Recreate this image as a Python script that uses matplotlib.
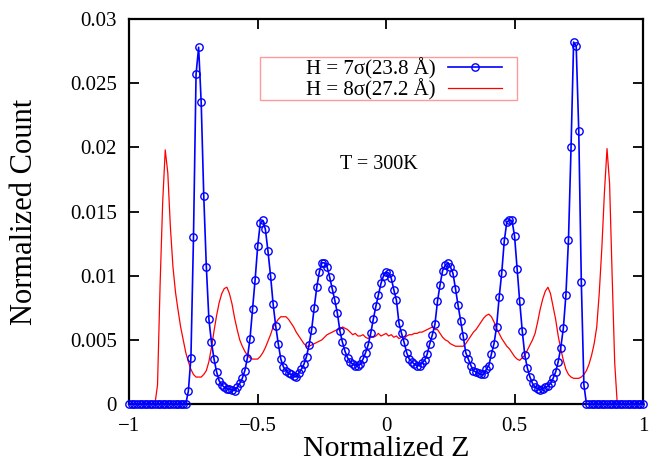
import numpy as np
import matplotlib
matplotlib.use("Agg")
import matplotlib.pyplot as plt
from matplotlib.patches import Rectangle

plt.rcParams['font.family'] = ['Liberation Serif', 'DejaVu Serif']

# ---- data (bins of 0.01 from -1 to 1) ----
blue_label = "H = 7σ(23.8 Å)"
red_label = "H = 8σ(27.2 Å)"

# H = 7 sigma, -1.00 .. -0.78 : empty
blue_left_zero = [0.0] * 23
# -0.77 .. 0.00
blue_left = [
    0.0010, 0.0036, 0.0130, 0.0257, 0.0278, 0.0235, 0.0162, 0.0107, 0.0066, 0.0048,
    0.0035, 0.0025, 0.0018, 0.0015, 0.0013, 0.0012, 0.00115, 0.0011, 0.00105, 0.0013,
    0.0016, 0.0020, 0.0026, 0.0036, 0.0051, 0.0074, 0.0097, 0.0123, 0.0141, 0.0143,
    0.0136, 0.0119, 0.0100, 0.0078, 0.0061, 0.0047, 0.0035, 0.0029, 0.0026, 0.0024,
    0.0023, 0.0022, 0.0021, 0.0024, 0.0027, 0.0031, 0.0037, 0.0046, 0.0058, 0.0075,
    0.0091, 0.0103, 0.0110, 0.0110, 0.0107, 0.0099, 0.0090, 0.0081, 0.0071, 0.0057,
    0.0048, 0.0041, 0.0036, 0.0033, 0.0031, 0.0030, 0.0030, 0.0031, 0.0035, 0.0040,
    0.0046, 0.0055, 0.0066, 0.0076, 0.0085, 0.0094, 0.0100, 0.0103,
]
# 0.01 .. 0.77
blue_right = [
    0.0102, 0.0098, 0.0089, 0.0081, 0.0063, 0.0055, 0.0048, 0.0040, 0.0035, 0.0033,
    0.0031, 0.0030, 0.0030, 0.0032, 0.0034, 0.0039, 0.0047, 0.0054, 0.0062, 0.0080,
    0.0093, 0.0104, 0.0108, 0.0110, 0.0107, 0.0102, 0.0090, 0.0077, 0.0065, 0.0053,
    0.0040, 0.0035, 0.0030, 0.0026, 0.0025, 0.0024, 0.0023, 0.0023, 0.0027, 0.0030,
    0.0039, 0.0047, 0.0060, 0.0083, 0.0102, 0.0127, 0.0142, 0.0143, 0.0143, 0.0131,
    0.0105, 0.0080, 0.0057, 0.0038, 0.0028, 0.0021, 0.0016, 0.0013, 0.0012, 0.0011,
    0.0012, 0.0013, 0.0014, 0.0016, 0.0020, 0.0025, 0.0033, 0.0044, 0.0059, 0.0085,
    0.0128, 0.0200, 0.0282, 0.0279, 0.0213, 0.0095, 0.0015,
]
# 0.78 .. 1.00 : empty
blue_right_zero = [0.0] * 23

# H = 8 sigma, -1.00 .. -0.90 : empty
red_left_zero = [0.0] * 11
# -0.89 .. 0.00
red_left = [
    0.0015, 0.0093, 0.0157, 0.0198, 0.0180, 0.0138, 0.0107, 0.0087, 0.0073, 0.0060,
    0.0050, 0.0040, 0.0033, 0.0027, 0.0023, 0.0021, 0.0021, 0.0021, 0.0023, 0.0026,
    0.0033, 0.0044, 0.0057, 0.0069, 0.0079, 0.0086, 0.0090, 0.0091, 0.0086, 0.0078,
    0.0067, 0.0058, 0.0050, 0.0045, 0.0041, 0.0038, 0.0036, 0.0035, 0.0035, 0.0035,
    0.0037, 0.0040, 0.0044, 0.0049, 0.0054, 0.0060, 0.0063, 0.0066, 0.0068, 0.0068,
    0.0068, 0.0066, 0.0063, 0.0060, 0.0056, 0.0053, 0.0050, 0.0047, 0.0045, 0.0045,
    0.0046, 0.0047, 0.0048, 0.0049, 0.0050, 0.0052, 0.0054, 0.0055, 0.0056, 0.0057,
    0.0058, 0.0058, 0.0060, 0.0059, 0.0058, 0.0056, 0.0054, 0.0055, 0.0053, 0.0053,
    0.0054, 0.0052, 0.0051, 0.0053, 0.0052, 0.0053, 0.0055, 0.0053, 0.0054, 0.0055,
]
# 0.01 .. 0.89
red_right = [
    0.0053, 0.0054, 0.0052, 0.0053, 0.0051, 0.0052, 0.0051, 0.0053, 0.0054, 0.0054,
    0.0055, 0.0055, 0.0056, 0.0056, 0.0057, 0.0058, 0.0059, 0.0060, 0.0058, 0.0058,
    0.0055, 0.0052, 0.0050, 0.0049, 0.0047, 0.0046, 0.0045, 0.0045, 0.0045, 0.0045,
    0.0047, 0.0050, 0.0053, 0.0056, 0.0058, 0.0061, 0.0064, 0.0067, 0.0069, 0.0070,
    0.0068, 0.0064, 0.0059, 0.0055, 0.0051, 0.0048, 0.0045, 0.0043, 0.0040, 0.0037,
    0.0035, 0.0034, 0.0036, 0.0038, 0.0042, 0.0046, 0.0050, 0.0055, 0.0064, 0.0074,
    0.0082, 0.0088, 0.0091, 0.0086, 0.0076, 0.0066, 0.0053, 0.0043, 0.0034, 0.0027,
    0.0023, 0.0021, 0.0020, 0.0020, 0.0020, 0.0021, 0.0023, 0.0026, 0.0031, 0.0038,
    0.0047, 0.0060, 0.0087, 0.0122, 0.0165, 0.0199, 0.0172, 0.0100, 0.0032,
]
# 0.90 .. 1.00 : empty
red_right_zero = [0.0] * 11

blue_y = blue_left_zero + blue_left + blue_right + blue_right_zero
red_y = red_left_zero + red_left + red_right + red_right_zero
z = np.linspace(-1, 1, 201)

x_ticks = [-1, -0.5, 0, 0.5, 1]
x_ticklabels = ["\u22121", "\u22120.5", "0", "0.5", "1"]
y_ticks = [0, 0.005, 0.01, 0.015, 0.02, 0.025, 0.03]
y_ticklabels = ["0", "0.005", "0.01", "0.015", "0.02", "0.025", "0.03"]

# ---- figure ----
fig = plt.figure(figsize=(6.49, 4.67), dpi=100)
ax = fig.add_axes([0.1992, 0.1349, 0.7915, 0.8244])

ax.plot(z, blue_y, color="#0000ff", lw=1.2, marker="o", ms=5.3, mfc="none",
        mew=1.0, label=blue_label, clip_on=False, zorder=4)
ax.plot(z, red_y, color="#ff0000", lw=0.9, label=red_label, zorder=3)

ax.set_xlim(-1, 1)
ax.set_ylim(0, 0.03)
ax.set_xticks(x_ticks)
ax.set_xticklabels(x_ticklabels)
ax.set_yticks(y_ticks)
ax.set_yticklabels(y_ticklabels)
ax.tick_params(direction="in", length=7, width=1.3, top=True, right=True,
               labelsize=15, pad=9)
for s in ax.spines.values():
    s.set_linewidth(1.6)

ax.set_xlabel("Normalized Z", fontsize=21.5, labelpad=0)
ax.set_ylabel("Normalized Count", fontsize=22)
ax.yaxis.set_label_coords(-0.176, 0.5)

ax.text(-0.028, 0.01867, "T = 300K", fontsize=14.5, ha="center", va="center")

# legend box drawn by hand (gnuplot style)
ax.add_patch(Rectangle((0.2544, 0.7896), 0.5003, 0.1117, transform=ax.transAxes,
                       fill=False, edgecolor="#ff9a9a", lw=1.0, zorder=5))
ax.legend(loc="center right", bbox_to_anchor=(0.7255, 0.844), frameon=False,
          markerfirst=False, fontsize=15, handlelength=2.6, handletextpad=0.6,
          labelspacing=0.0, borderpad=0, borderaxespad=0)

fig.savefig("out.png", dpi=100)
